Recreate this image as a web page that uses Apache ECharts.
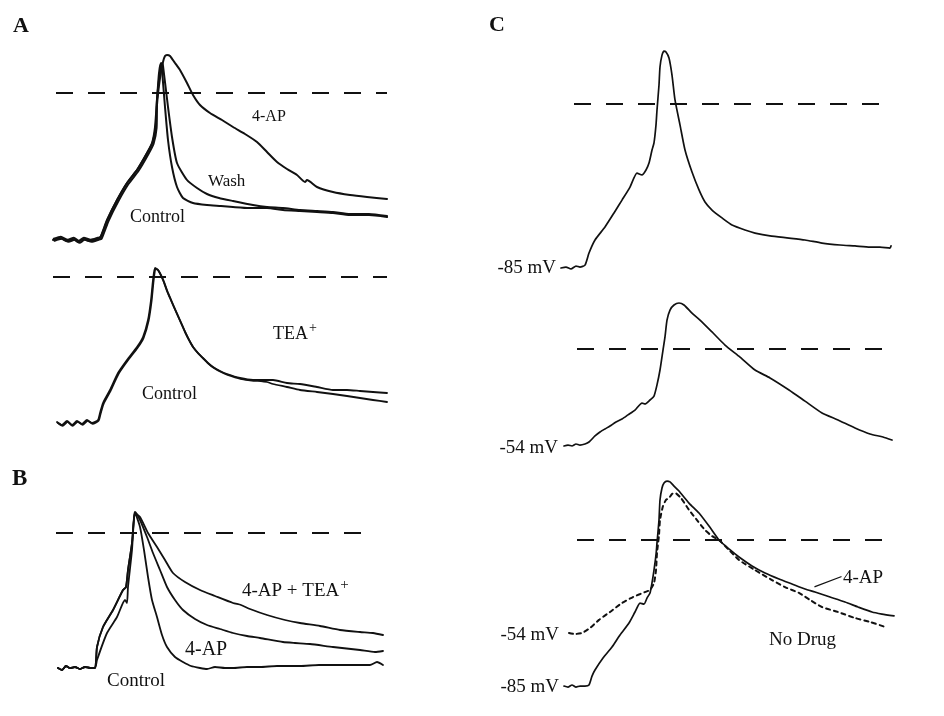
<!DOCTYPE html>
<html><head><meta charset="utf-8">
<script src="https://cdn.jsdelivr.net/npm/echarts@6/dist/echarts.min.js"></script>
<style>html,body{margin:0;padding:0;background:#fff}#c{width:944px;height:716px}</style>
</head><body><div id="c"></div>
<script>
// ---- Data (time in ms, membrane potential in mV) ----
// Panel A, top (4-AP / Wash / Control)
const a1Rise = [[0,-73.5],[3.5,-72.5],[7,-74],[10,-73],[12.5,-74.5],[15,-73],[18.5,-74],[22,-73],[23.5,-72.5],[27,-63.5],[32,-53.5],[37,-45],[42,-38.5],[47,-30],[49.5,-25],[51,-17]];
const a1ControlTail = [[52,-3.5],[53,10],[54,15],[54.5,11.5],[56,-7],[57.5,-23.5],[59.5,-37],[62,-47],[65,-52.5],[70,-55],[77,-56],[84,-56.5],[90,-57],[98,-57.5],[107,-57.5],[115,-58.5],[123.5,-59],[132,-59.5],[140,-60],[148.5,-61],[158,-61],[167,-62]];
const a1WashTail = [[52,-3],[53.5,10.5],[54.5,15],[55,13.5],[57.5,-7],[59.5,-22],[62,-35],[67,-43.5],[72,-47.5],[77,-50.5],[83,-52.5],[90,-54],[100,-56],[107,-57],[115,-57.5],[123.5,-58.5],[132,-59],[140,-59.5],[148.5,-60.5],[158,-60.5],[167,-61.5]];
const a1ApTail = [[52,-6],[53.5,7.5],[55,15.5],[56,18.5],[57,19],[58.5,18.5],[61,15],[63.5,11.5],[67,5],[70,-1],[73.5,-6],[78.5,-10],[84.5,-13.5],[90,-17],[96,-20.5],[102,-24.5],[107,-29.5],[112,-34.5],[117,-38],[122,-41],[126,-44.5],[127,-43.5],[132,-47],[140,-49.5],[148.5,-51],[157,-52],[167,-53]];
// Panel A, bottom (TEA+ / Control)
const a2Common = [[2,-72.5],[4.5,-74],[7,-72],[9.5,-74],[12,-72],[14.5,-73.5],[17,-71.5],[19.5,-73],[22.5,-71.5],[23.5,-68],[25,-63],[28.5,-56.5],[32.5,-48],[37,-41.5],[42,-35],[45,-30],[47.5,-21.5],[49,-11.5],[50,-1.5],[51,4.5],[52.5,3.5],[55,-1.5],[57,-7],[58.5,-10.5],[60,-14],[62,-18.5],[64,-23],[66,-27.5],[68,-31.5],[70,-35],[72.5,-38],[75,-40.5],[77.5,-43],[80,-45],[83.5,-47],[87,-48.5],[93.5,-50.5],[100,-51.5]];
const a2TeaTail = [[105,-51.5],[110,-51.5],[117,-53],[123.5,-53.5],[132,-55],[140,-56.5],[147,-56.5],[153.5,-57],[160,-57.5],[167,-58]];
const a2ControlTail = [[104,-52],[107,-52.5],[110,-53.5],[117,-55],[123.5,-56.5],[132,-57.5],[140,-58.5],[147,-59.5],[153.5,-60.5],[160,-61.5],[167,-62.5]];
// Panel B (4-AP + TEA+ / 4-AP / Control)
const bBase = [[2.5,-67.5],[4.5,-68.5],[6.5,-66.5],[8.5,-67.5],[11,-67],[13.5,-68],[16,-67],[18.5,-67.5],[21,-67.5]];
const bRiseUpper = [[22,-57],[25,-47],[30,-38.5],[35,-28.5],[36.5,-27],[37.5,-18.5],[39.5,-5],[41,10]];
const bRiseLower = [[22,-63.5],[27,-50],[32,-42],[36,-33.5],[37,-35],[37.5,-27],[39.5,-8.5],[40.5,8],[41,10.5]];
const bControlTail = [[43.5,3],[45.5,-8.5],[47.5,-22],[49.5,-33.5],[52,-42],[54.5,-51],[57,-57],[61,-62],[65,-64.5],[69,-66.5],[73.5,-67.5],[77,-68],[81,-67],[86,-67.5],[90,-67.5],[97,-67],[103.5,-67],[112,-66.5],[123.5,-66.5],[133,-66],[143.5,-66],[152,-66],[158.5,-66],[162,-64.5],[165,-66]];
const bApTail = [[43.5,6.5],[47,-2],[50,-10],[53.5,-18.5],[57,-27],[61,-33.5],[65,-38.5],[71,-43],[77,-46],[83.5,-48],[90,-50],[97,-51.5],[103.5,-52.5],[115,-54.5],[121,-55],[128.5,-55.5],[140,-57],[153.5,-58.5],[161,-59.5],[165,-59]];
const bApTeaTail = [[43.5,8],[47.5,0],[52,-7],[56,-13.5],[60,-20],[66,-24.5],[73.5,-28.5],[81,-31.5],[90,-35],[94,-36],[98.5,-38],[107,-41],[116,-43.5],[123.5,-45],[133.5,-46.5],[143.5,-48.5],[153.5,-49.5],[160,-50],[165,-51]];
// Panel C, top (-85 mV)
const c1Trace = [[0,-85.5],[2.5,-85],[5,-86],[7.5,-84.5],[9.5,-85],[12,-84],[14,-77.7],[17,-70.9],[22,-64.1],[26.5,-56.8],[30.5,-50.1],[34.5,-43.3],[38,-36],[40.5,-37],[42.5,-34.4],[44,-30.8],[45.5,-24],[46.5,-20.3],[47.5,-10.9],[48,-3.1],[49,9.9],[49.5,19.3],[50.5,25.5],[51.5,27.6],[52.5,27.1],[54,24],[55.5,15.1],[57,2.1],[59.5,-10.9],[62,-24],[65.5,-35.5],[69,-44.8],[72,-51.1],[75.5,-55.3],[80.5,-59.4],[85.5,-63.1],[92,-65.7],[97,-67.3],[104.5,-68.8],[114,-69.9],[122,-70.9],[130.5,-72.5],[139.5,-73.5],[147,-74],[154.5,-74.6],[159.5,-74.6],[164.5,-75.1],[165,-74]];
// Panel C, middle (-54 mV)
const c2Trace = [[0,-54],[2,-53.5],[4,-54],[6,-52.9],[8,-53.5],[10.5,-52.9],[12.5,-51.8],[15.5,-48.4],[18,-46.2],[20.5,-44.5],[23,-42.9],[26,-40.6],[29,-39],[32,-36.7],[35.5,-34],[39,-30.1],[40.5,-30.6],[43,-28.4],[45,-26.2],[46.5,-20],[48,-11.7],[49.5,-0.6],[50.5,6.7],[51.5,16.1],[53,21.7],[55,24.5],[57.5,25.6],[60,24.5],[64,20],[68,16.1],[74,9.5],[80.5,2.2],[88,-4.5],[95.5,-11.7],[103,-16.1],[112.5,-22.8],[120.5,-29],[129,-35.6],[137,-39.5],[145.5,-44],[153,-47.3],[159.5,-49],[164,-50.7]];
// Panel C, bottom (4-AP from -85 mV, No Drug from -54 mV)
const c3ApTrace = [[0,-85],[2,-85.6],[4,-84.4],[6,-85.6],[8,-85],[10.5,-85],[12.5,-84.4],[14,-79.2],[15.5,-75.7],[19.5,-68.7],[24,-62.3],[28,-55.3],[32.5,-48.3],[35.5,-41.9],[38,-36.7],[40,-37.3],[41.5,-33.8],[43,-30.8],[44,-25],[45,-17.5],[46,-8.7],[46.5,-1.7],[47.5,11.6],[48,23.3],[49,30.3],[50,33.2],[51.5,34.3],[53,33.8],[55,31.4],[57.5,28.5],[62.5,21.5],[67.5,15.7],[72.5,8.1],[77.5,0],[82.5,-5.2],[87.5,-9.9],[94,-15.1],[100.5,-19.2],[107.5,-22.7],[114,-25.6],[120.5,-28.5],[125.5,-30.3],[133,-33.2],[140.5,-36.1],[147,-39],[154,-41.9],[159,-43.1],[165,-44.2]];
const c3NoDrugTrace = [[2.5,-54.1],[5.5,-54.7],[9,-54.1],[13,-51.2],[17.5,-46.5],[23,-41.9],[29,-36.7],[34.5,-33.2],[40.5,-30.3],[43,-29.1],[45,-25],[46,-17.5],[46.5,-7.6],[47.5,2.9],[48,11.6],[49.5,19.8],[51,23.3],[52.5,24.4],[54,26.8],[55.5,27.4],[58.5,24.4],[62.5,17.5],[66.5,11.6],[70.5,5.8],[74,2.3],[77.5,0],[82.5,-5.8],[87.5,-11.6],[95.5,-17.5],[104,-23.3],[110.5,-27.4],[117.5,-30.8],[123,-34.9],[129,-39],[137,-41.9],[145.5,-45.4],[153,-47.7],[160.5,-50.6]];
const c3Leader = [[125.5,-27.2],[138.5,-21.4]];
// 0 mV reference lines: [start ms, end ms] per panel
const zeroA1 = [1.5,167], zeroA2 = [0,167], zeroB = [1.5,160], zeroC1 = [6.5,159], zeroC2 = [6.5,160], zeroC3 = [6.5,165];
// Axis ranges [xmin,xmax,ymin,ymax]
const rangeA1 = [0,167,-75,25], rangeA2 = [0,167,-75,10], rangeB = [0,167,-70,15];
const rangeC1 = [0,165,-90,30], rangeC2 = [0,165,-60,35], rangeC3 = [0,165,-90,40];

// ---- Layout ----
const grids = [
  {left:53, top:43, width:334, height:200},
  {left:53, top:257, width:334, height:170},
  {left:53, top:503, width:334, height:170},
  {left:561, top:46.46, width:330, height:230.16},
  {left:564, top:286.14, width:330, height:170.62},
  {left:564, top:471.28, width:330, height:223.34}
];
const ranges = [rangeA1, rangeA2, rangeB, rangeC1, rangeC2, rangeC3];
const zeros = [zeroA1, zeroA2, zeroB, zeroC1, zeroC2, zeroC3];

const xAxes = ranges.map((r,i)=>({type:'value', gridIndex:i, min:r[0], max:r[1], show:false}));
const yAxes = ranges.map((r,i)=>({type:'value', gridIndex:i, min:r[2], max:r[3], show:false}));

const SERIF = '"Liberation Serif","DejaVu Serif",serif';
function trace(data, gi, w, type, sm){
  return {type:'line', xAxisIndex:gi, yAxisIndex:gi, data:data, showSymbol:false, symbol:'none',
    smooth: sm === undefined ? 0.2 : sm,
    lineStyle:{color:'#111', width:w||1.8, type:type||'solid', join:'round', cap:'round'}, silent:true, z:3};
}
const series = [];
zeros.forEach((z,i)=>{
  series.push({type:'line', xAxisIndex:i, yAxisIndex:i, data:[[z[0],0],[z[1],0]], showSymbol:false, symbol:'none',
    lineStyle:{color:'#111', width:2, type:[17,15]}, silent:true, z:2});
});
// A top
series.push(trace(a1Rise.concat(a1ControlTail),0,2));
series.push(trace(a1Rise.map(p=>[p[0]+0.4,p[1]+0.6]).concat(a1WashTail),0,2));
series.push(trace(a1Rise.map(p=>[p[0]+0.8,p[1]-0.4]).concat(a1ApTail),0,2));
// A bottom
series.push(trace(a2Common.concat(a2TeaTail),1,1.8));
series.push(trace(a2Common.map(p=>[p[0]+0.3,p[1]-0.4]).concat(a2ControlTail),1,1.8));
// B
series.push(trace(bBase.concat(bRiseUpper,bControlTail),2,1.8));
series.push(trace(bBase.concat(bRiseLower,bApTail),2,1.8));
series.push(trace(bBase.concat(bRiseUpper,bApTeaTail),2,1.8));
// C
series.push(trace(c1Trace,3,1.7));
series.push(trace(c2Trace,4,1.7));
series.push(trace(c3ApTrace,5,1.7));
series.push(trace(c3NoDrugTrace,5,2,[4,4]));
series.push(trace(c3Leader,5,1.3,'solid',false));

function txt(text, x, y, size, align, bold){
  return {type:'text', x:x, y:y, silent:true, z:10,
    style:{text:text, fill:'#111', font:(bold?'bold ':'')+size+'px '+SERIF, textAlign:align||'left', textVerticalAlign:'middle'}};
}
function supTxt(main, sup, x, y, size){
  return {type:'text', x:x, y:y, silent:true, z:10,
    style:{text:'{m|'+main+'}{s|'+sup+'}', textAlign:'left', textVerticalAlign:'middle',
      rich:{m:{font:size+'px '+SERIF, fill:'#111', lineHeight:size+4, verticalAlign:'bottom'},
            s:{font:Math.round(size*0.8)+'px '+SERIF, fill:'#111', lineHeight:size+4, verticalAlign:'top', padding:[0,0,0,1]}}}};
}
const graphic = [
  txt('A',13,26,22,'left',true),
  txt('B',12,479,23,'left',true),
  txt('C',489,25,22,'left',true),
  txt('4-AP',252,117,16),
  txt('Wash',208,182,17),
  txt('Control',130,217,18),
  supTxt('TEA','+',273,332,18),
  txt('Control',142,394,18),
  supTxt('4-AP + TEA','+',242,589,19),
  txt('4-AP',185,650,20),
  txt('Control',107,681,19),
  txt('-85 mV',556,268,19,'right'),
  txt('-54 mV',558,448,19,'right'),
  txt('-54 mV',559,635,19,'right'),
  txt('-85 mV',559,687,19,'right'),
  txt('4-AP',843,578,19),
  txt('No Drug',769,640,19)
];

const chart = echarts.init(document.getElementById('c'), null, {renderer:'canvas'});
chart.setOption({
  animation:false,
  backgroundColor:'#fff',
  grid:grids,
  xAxis:xAxes,
  yAxis:yAxes,
  series:series,
  graphic:graphic
});
</script>
</body></html>
